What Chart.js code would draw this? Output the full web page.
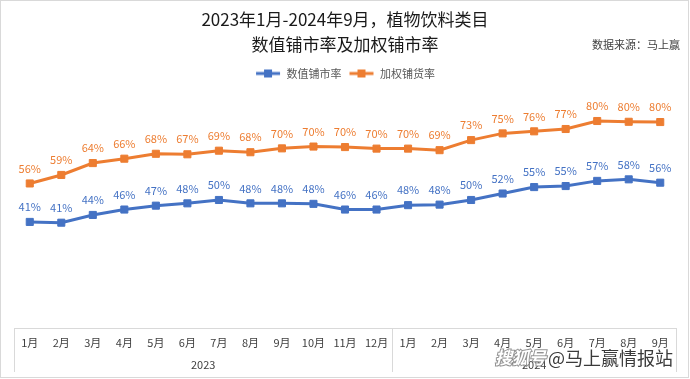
<!DOCTYPE html>
<html>
<head>
<meta charset="utf-8">
<script src="https://cdn.jsdelivr.net/npm/chart.js@4.4.1/dist/chart.umd.min.js"></script>
<style>
  html, body { margin: 0; padding: 0; background: #ffffff; }
  #wrap { width: 690px; height: 379px; position: relative; }
</style>
</head>
<body>
<div id="wrap"><canvas id="c" width="690" height="379"></canvas></div>
<script>
// ---- data ----
const months = ['1月','2月','3月','4月','5月','6月','7月','8月','9月','10月','11月','12月',
                '1月','2月','3月','4月','5月','6月','7月','8月','9月'];
const years = ['2023', '2024'];
const yearSpans = [12, 9];
const numericRate = [41.1, 40.8, 43.8, 45.9, 47.4, 48.3, 49.6, 48.3, 48.3, 48.1, 45.9, 45.9,
                     47.6, 47.8, 49.6, 52.1, 54.6, 55.0, 57.0, 57.6, 56.3];
const weightedRate = [56.0, 59.3, 63.9, 65.6, 67.5, 67.3, 68.7, 68.1, 69.6, 70.3, 70.1, 69.5,
                      69.5, 68.9, 72.8, 75.4, 76.2, 77.1, 80.2, 79.9, 79.8];
const seriesNames = ['数值铺市率', '加权铺货率'];
const titleLines = ['2023年1月-2024年9月，植物饮料类目', '数值铺市率及加权铺市率'];
const sourceText = '数据来源：马上赢';
const watermarkA = '搜狐号';
const watermarkB = '@马上赢情报站';

const BLUE = '#4472C4';
const ORANGE = '#ED7D31';
const FONT = '"Noto Sans CJK SC", "Noto Sans", sans-serif';

function legendIcon(color) {
  const cv = document.createElement('canvas');
  cv.width = 26; cv.height = 10;
  const g = cv.getContext('2d');
  g.strokeStyle = color; g.lineWidth = 3;
  g.beginPath(); g.moveTo(1, 5); g.lineTo(25, 5); g.stroke();
  g.fillStyle = color; g.fillRect(9, 1, 8, 8);
  return cv;
}
const icons = [legendIcon(BLUE), legendIcon(ORANGE)];

const decorPlugin = {
  id: 'decor',
  beforeDraw(chart) {
    const ctx = chart.ctx;
    ctx.save();
    ctx.fillStyle = '#ffffff';
    ctx.fillRect(0, 0, chart.width, chart.height);
    ctx.restore();
  },
  afterDraw(chart) {
    const ctx = chart.ctx;
    const x = chart.scales.x;
    const area = chart.chartArea;
    const half = (x.getPixelForValue(1) - x.getPixelForValue(0)) / 2;
    const left = x.getPixelForValue(0) - half;
    const right = x.getPixelForValue(months.length - 1) + half;
    const top = area.bottom;
    const bottom = 372;
    ctx.save();
    // outer frame
    ctx.strokeStyle = '#d9d9d9';
    ctx.lineWidth = 1;
    ctx.strokeRect(0.5, 0.5, 688, 377);
    // axis box
    ctx.beginPath();
    ctx.moveTo(left, Math.round(top) + 0.5); ctx.lineTo(right, Math.round(top) + 0.5);
    ctx.stroke();
    let idx = 0;
    const bounds = [left];
    yearSpans.forEach(s => { idx += s; bounds.push(x.getPixelForValue(idx - 1) + half); });
    bounds.forEach(b => {
      ctx.beginPath();
      ctx.moveTo(Math.round(b) + 0.5, top); ctx.lineTo(Math.round(b) + 0.5, bottom);
      ctx.stroke();
    });
    // year labels
    ctx.fillStyle = '#404040';
    ctx.font = '11px ' + FONT;
    ctx.textAlign = 'center';
    ctx.textBaseline = 'middle';
    for (let i = 0; i < years.length; i++) {
      ctx.fillText(years[i], (bounds[i] + bounds[i + 1]) / 2, 365);
    }
    // source
    ctx.textAlign = 'right';
    ctx.fillStyle = '#404040';
    ctx.font = '11px ' + FONT;
    ctx.fillText(sourceText, 680, 45);
    // data labels
    ctx.textAlign = 'center';
    ctx.font = '11px ' + FONT;
    chart.data.datasets.forEach((ds, di) => {
      const meta = chart.getDatasetMeta(di);
      ctx.fillStyle = ds.borderColor;
      meta.data.forEach((pt, i) => {
        ctx.fillText(Math.round(ds.data[i]) + '%', pt.x, pt.y - 15);
      });
    });
    // watermark
    ctx.textBaseline = 'middle';
    ctx.textAlign = 'left';
    ctx.font = 'italic bold 17px ' + FONT;
    ctx.lineWidth = 2;
    ctx.strokeStyle = 'rgba(120,120,120,0.8)';
    ctx.strokeText(watermarkA, 495, 358);
    ctx.fillStyle = '#ffffff';
    ctx.fillText(watermarkA, 495, 358);
    ctx.font = '18px ' + FONT;
    ctx.strokeStyle = 'rgba(255,255,255,0.9)';
    ctx.lineWidth = 3;
    ctx.strokeText(watermarkB, 548, 358);
    ctx.fillStyle = '#3a3a3a';
    ctx.fillText(watermarkB, 548, 358);
    ctx.restore();
  }
};

new Chart(document.getElementById('c'), {
  type: 'line',
  data: {
    labels: months,
    datasets: [
      { label: seriesNames[0], data: numericRate, borderColor: BLUE, backgroundColor: BLUE,
        borderWidth: 3, pointStyle: 'rect', pointRadius: 5, pointBorderWidth: 1, tension: 0 },
      { label: seriesNames[1], data: weightedRate, borderColor: ORANGE, backgroundColor: ORANGE,
        borderWidth: 3, pointStyle: 'rect', pointRadius: 5, pointBorderWidth: 1, tension: 0 }
    ]
  },
  options: {
    responsive: false,
    animation: false,
    devicePixelRatio: 1,
    layout: { padding: { left: 14, right: 14, top: 0, bottom: 0 } },
    plugins: {
      title: {
        display: true,
        text: titleLines,
        color: '#1a1a1a',
        font: { family: FONT, size: 17, weight: 'normal', lineHeight: 25 / 17 },
        padding: { top: 7, bottom: 4 }
      },
      legend: {
        display: true,
        labels: {
          usePointStyle: true,
          pointStyleWidth: 26,
          boxHeight: 10,
          color: '#595959',
          font: { family: FONT, size: 11 },
          padding: 7,
          generateLabels(chart) {
            return chart.data.datasets.map((ds, i) => ({
              text: ds.label, pointStyle: icons[i], fillStyle: ds.borderColor,
              strokeStyle: ds.borderColor, lineWidth: 0, hidden: false, datasetIndex: i,
              fontColor: '#595959'
            }));
          }
        }
      },
      tooltip: { enabled: false }
    },
    scales: {
      x: {
        type: 'category',
        offset: true,
        grid: { display: false, drawTicks: false },
        border: { display: false },
        ticks: { color: '#404040', font: { family: FONT, size: 11 }, padding: 8, maxRotation: 0, autoSkip: false },
        afterFit(scale) { scale.height = 51; }
      },
      y: {
        display: false,
        min: 0,
        max: 92.6
      }
    }
  },
  plugins: [decorPlugin]
});
</script>
</body>
</html>
